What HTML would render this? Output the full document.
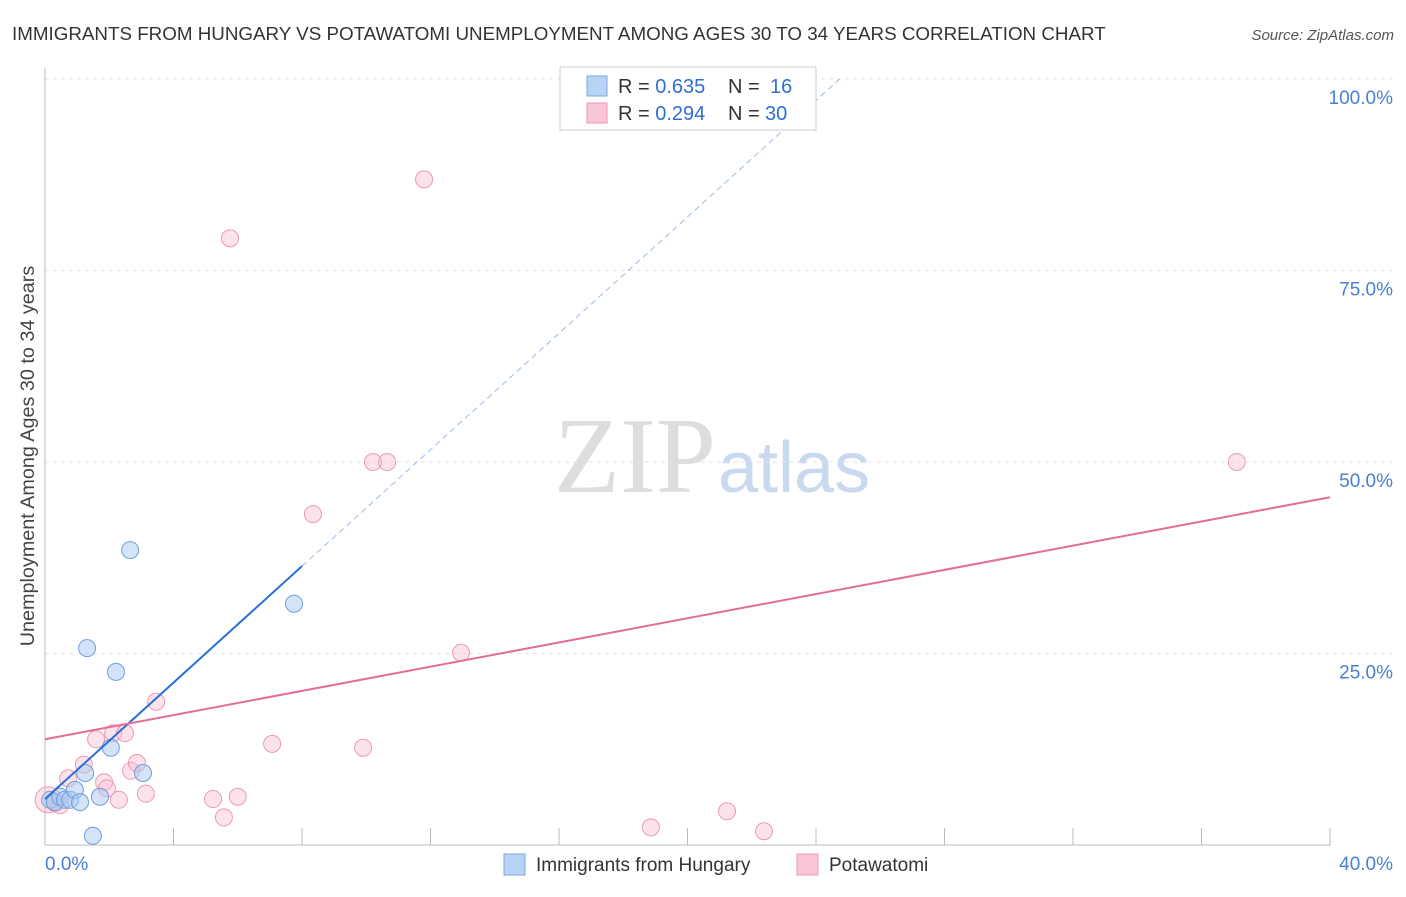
<!DOCTYPE html>
<html><head><meta charset="utf-8"><style>
body{margin:0;background:#fff;font-family:"Liberation Sans",sans-serif}
</style></head><body>
<svg id="c" width="1406" height="892" xmlns="http://www.w3.org/2000/svg" style="font-family:'Liberation Sans',sans-serif">
<text x="12" y="40" font-size="18.8" fill="#333">IMMIGRANTS FROM HUNGARY VS POTAWATOMI UNEMPLOYMENT AMONG AGES 30 TO 34 YEARS CORRELATION CHART</text>
<text x="1394" y="40" font-size="15" fill="#555" font-style="italic" text-anchor="end">Source: ZipAtlas.com</text>
<text x="716" y="492" font-size="108" fill="#ddd" text-anchor="end" font-family="Liberation Serif">ZIP</text>
<text x="718" y="492" font-size="72" fill="#c9d9f0">atlas</text>
<text transform="translate(34,456) rotate(-90)" font-size="19.8" fill="#444" text-anchor="middle">Unemployment Among Ages 30 to 34 years</text>
<g id="grid"></g><g id="marks"></g>
<g>
<rect x="560" y="67" width="256" height="63" fill="#fff" stroke="#ccc"/>
<rect x="587" y="76" width="20" height="20" fill="#b9d3f5" stroke="#7aa7e0"/>
<rect x="587" y="103" width="20" height="20" fill="#f9c6d5" stroke="#ec97b2"/>
<text x="618" y="93" font-size="20" fill="#333">R = <tspan fill="#2f6fcf">0.635</tspan></text>
<text x="728" y="93" font-size="20" fill="#333">N = <tspan x="770" fill="#2f6fcf">16</tspan></text>
<text x="618" y="120" font-size="20" fill="#333">R = <tspan fill="#2f6fcf">0.294</tspan></text>
<text x="728" y="120" font-size="20" fill="#333">N = <tspan x="765" fill="#2f6fcf">30</tspan></text>
</g>
<g>
<rect x="504" y="854" width="21" height="21" fill="#b9d3f5" stroke="#7aa7e0"/>
<text x="536" y="871" font-size="19" fill="#333">Immigrants from Hungary</text>
<rect x="797" y="854" width="21" height="21" fill="#f9c6d5" stroke="#ec97b2"/>
<text x="829" y="871" font-size="19" fill="#333">Potawatomi</text>
</g>
</svg>
<script>
const yTicks=[25,50,75,100];
const yTickLabels=["25.0%","50.0%","75.0%","100.0%"];
const xTicks=[0,4,8,12,16,20,24,28,32,36,40];
const hungaryX=[0.16,0.31,0.47,0.62,0.78,0.93,1.09,1.25,1.31,1.49,1.71,2.05,2.21,2.65,3.05,7.75];
const hungaryY=[5.9,5.6,6.3,5.9,5.9,7.2,5.6,9.4,25.7,1.2,6.3,12.7,22.6,38.5,9.4,31.5];
const potX=[0.1,0.31,0.47,0.72,1.21,1.59,1.84,1.93,2.12,2.30,2.49,2.68,2.86,3.14,3.46,5.23,5.57,5.76,6.0,7.07,8.34,9.9,10.21,10.65,11.8,12.95,18.86,21.23,22.38,37.1];
const potY=[5.9,5.5,5.2,8.7,10.5,13.8,8.2,7.4,14.6,5.9,14.6,9.7,10.7,6.7,18.7,6.0,3.6,79.2,6.3,13.2,43.2,12.7,50,50,86.9,25.1,2.3,4.4,1.8,50];
const hungaryLine=[6.0,3.8,8.0];
const potLine=[13.8,0.79];
const X=v=>45+v/40*1285, Y=v=>845-v/100*766;
const NS="http://www.w3.org/2000/svg";
function mk(t,a,p){const e=document.createElementNS(NS,t);for(const k in a)e.setAttribute(k,a[k]);p.appendChild(e);return e;}
const g=document.getElementById('grid'), m=document.getElementById('marks');
yTicks.forEach((v,i)=>{
 const l=mk('line',{x1:45,x2:1395,y1:Y(v),y2:Y(v),stroke:'#e3e3e3','stroke-dasharray':'4,4'},g);
 
 
 const t=mk('text',{x:1393,y:Y(v)+25,'font-size':19,fill:'#4a7fd0','text-anchor':'end'},g);t.textContent=yTickLabels[i];
 
 
});
const ax=mk('line',{x1:45,x2:1330,y1:845,y2:845,stroke:'#bbb'},g);


const ay=mk('line',{x1:45,x2:45,y1:68,y2:845,stroke:'#bbb'},g);


xTicks.forEach(v=>{const l=mk('line',{x1:X(v),x2:X(v),y1:828,y2:845,stroke:'#bbb'},g);
 
 });
[["0.0%",45,'start'],["40.0%",1393,'end']].forEach(a=>{const t=mk('text',{x:a[1],y:870,'font-size':19,fill:'#4a7fd0','text-anchor':a[2]},g);t.textContent=a[0];
 
 });
potX.forEach((x,i)=>{const c=mk('circle',{cx:X(x),cy:Y(potY[i]),r:i==0?13:8.5,fill:'rgba(249,190,210,0.45)',stroke:'#eb9ab5','stroke-width':1},m);
 
 });
hungaryX.forEach((x,i)=>{const c=mk('circle',{cx:X(x),cy:Y(hungaryY[i]),r:8.5,fill:'rgba(170,200,240,0.5)',stroke:'#6f9fdc','stroke-width':1},m);
 
 });
const [b,s,e]=hungaryLine, xEnd=(100-b)/s;
const l1=mk('line',{x1:X(0),y1:Y(b),x2:X(e),y2:Y(b+s*e),stroke:'#2a6fd6','stroke-width':2},m);


const l2=mk('line',{x1:X(e),y1:Y(b+s*e),x2:X(xEnd),y2:Y(100),stroke:'#9bbce6','stroke-width':1,'stroke-dasharray':'6,4'},m);


const l3=mk('line',{x1:X(0),y1:Y(potLine[0]),x2:X(40),y2:Y(potLine[0]+potLine[1]*40),stroke:'#e46d98','stroke-width':2},m);


</script>
</body></html>
